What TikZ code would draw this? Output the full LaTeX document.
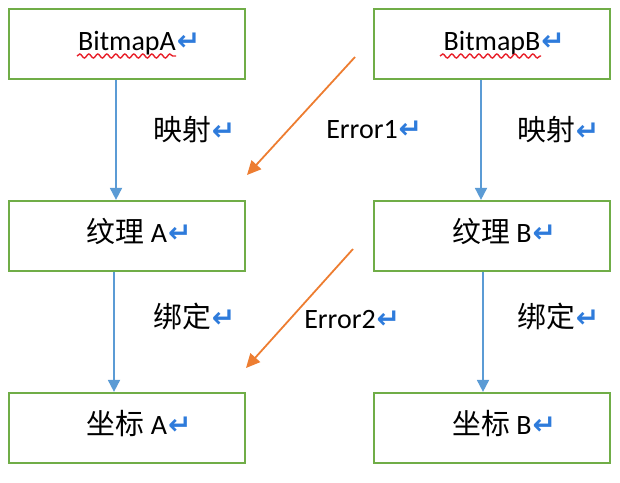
\documentclass[tikz,border=0pt]{standalone}
\usepackage{fontspec}
\setmainfont{Carlito}
\newfontfamily\cjk[Scale=1.03]{Noto Sans CJK SC}
\newfontfamily\symb{DejaVu Sans}
\usetikzlibrary{arrows.meta,decorations.pathmorphing}
\definecolor{boxgreen}{HTML}{70AD47}
\definecolor{flowblue}{HTML}{5B9BD5}
\definecolor{errorange}{HTML}{ED7D31}
\definecolor{retblue}{HTML}{2E7BDB}
\definecolor{spellred}{HTML}{E8202A}
\newcommand{\ret}{\rlap{\kern0.5pt\symb\bfseries\color{retblue}↵}}

\begin{document}
\begin{tikzpicture}[x=0.5pt,y=-0.5pt,
  font=\fontsize{14}{16}\selectfont,
  box/.style={draw=boxgreen,line width=1.1pt,minimum width=118pt,minimum height=35pt,
    inner sep=0pt,text height=0.64em,text depth=0pt},
  lbl/.style={inner sep=0pt,text height=0.64em,text depth=0pt},
  flow/.style={draw=flowblue,line width=0.9pt,-{Triangle[length=6pt,width=6pt]}},
  err/.style={draw=errorange,line width=0.9pt,-{Triangle[length=7pt,width=6.5pt]}},
  wavy/.style={draw=spellred,line width=0.7pt,decorate,
    decoration={snake,segment length=4.5pt,amplitude=1pt}}]

\useasboundingbox (0,0) rectangle (620,482);

\node[box] (bmpA) at (127,44) {BitmapA\ret};
\node[box] (bmpB) at (492,44) {BitmapB\ret};
\node[box] (texA) at (127,236) {{\cjk 纹理} A\ret};
\node[box] (texB) at (492,236) {{\cjk 纹理} B\ret};
\node[box] (crdA) at (127,428) {{\cjk 坐标} A\ret};
\node[box] (crdB) at (492,428) {{\cjk 坐标} B\ret};

\draw[wavy] (77,56) -- (176,56);
\draw[wavy] (440,56) -- (541,56);

\node[lbl] (mapA) at (182,134) {{\cjk 映射}\ret};
\node[lbl] (err1) at (362,132) {Error1\ret};
\node[lbl] (mapB) at (546,134) {{\cjk 映射}\ret};
\node[lbl] (bindA) at (182,321) {{\cjk 绑定}\ret};
\node[lbl] (err2) at (340,322) {Error2\ret};
\node[lbl] (bindB) at (546,321) {{\cjk 绑定}\ret};

\draw[flow] ([xshift=-5.5pt]bmpA.south) -- ([xshift=-5.5pt]texA.north);
\draw[flow] ([xshift=-5.5pt]bmpB.south) -- ([xshift=-5.5pt]texB.north);
\draw[flow] ([xshift=-6.5pt]texA.south) -- ([xshift=-6.5pt]crdA.north);
\draw[flow] ([xshift=-4.5pt]texB.south) -- ([xshift=-4.5pt]crdB.north);

\coordinate (e1s) at (355,57);
\coordinate (e1t) at (247,175);
\coordinate (e2s) at (353,249);
\coordinate (e2t) at (246,368);
\draw[err] (e1s) -- (e1t);
\draw[err] (e2s) -- (e2t);

\end{tikzpicture}
\end{document}
